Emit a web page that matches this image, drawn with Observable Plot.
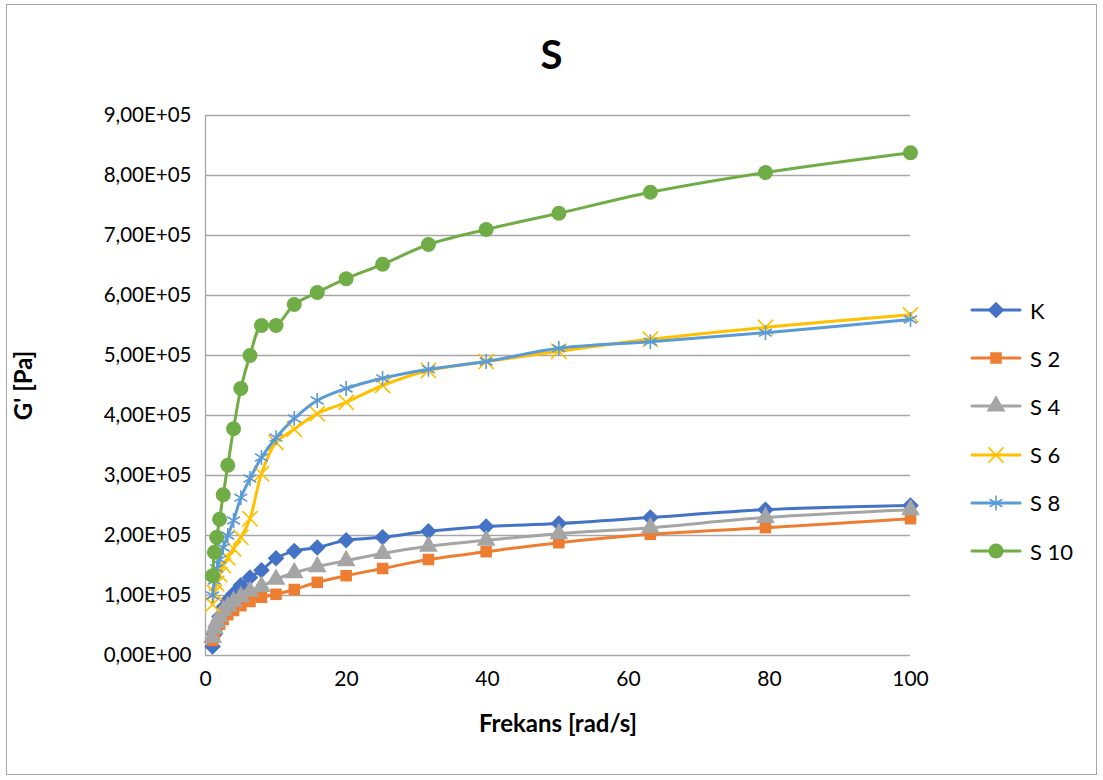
<!DOCTYPE html>
<html>
<head>
<meta charset="utf-8">
<script src="https://cdn.jsdelivr.net/npm/d3@7"></script>
<script src="https://cdn.jsdelivr.net/npm/@observablehq/plot@0.6"></script>
<style>
  html, body { margin: 0; padding: 0; background: #fff; }
  #wrap { position: relative; width: 1103px; height: 780px; font-family: Lato, "Open Sans", sans-serif; }
  #frame { position: absolute; left: 6px; top: 4px; width: 1091px; height: 771px; border: 1.5px solid #a6a6a6; box-sizing: border-box; pointer-events: none; }
  #title { position: absolute; left: 0; width: 1103px; top: 30px; text-align: center; font-weight: bold; font-size: 40px; color: #000; }
  #legend { position: absolute; left: 970px; top: 286px; }
  .row { display: flex; align-items: center; height: 48.2px; }
  .row svg { margin-right: 8px; }
  .row span { font-size: 22px; color: #000; }
  #chart svg { display: block; }
</style>
</head>
<body>
<div id="wrap">
  <div id="chart"></div>
  <div id="title">S</div>
  <div id="legend"></div>
  <div id="frame"></div>
</div>
<script>
// Frequency (rad/s)
const freq = [1, 1.259, 1.585, 1.995, 2.512, 3.162, 3.981, 5.012, 6.31, 7.943, 10, 12.59, 15.85, 19.95, 25.12, 31.62, 39.81, 50.12, 63.1, 79.43, 100];

// G' [Pa] per series
const seriesNames = ["K", "S 2", "S 4", "S 6", "S 8", "S 10"];
const gK   = [15000, 35000, 50000, 65000, 80000, 92000, 103000, 117000, 130000, 142000, 162000, 174000, 180000, 192000, 197000, 207000, 215000, 220000, 230000, 243000, 250000];
const gS2  = [25000, 35000, 45000, 52000, 60000, 68000, 75000, 83000, 90000, 97000, 102000, 110000, 122000, 133000, 145000, 160000, 173000, 188000, 202000, 213000, 228000];
const gS4  = [30000, 45000, 55000, 65000, 75000, 82000, 90000, 98000, 107000, 115000, 127000, 138000, 148000, 158000, 170000, 182000, 192000, 203000, 213000, 230000, 243000];
const gS6  = [85000, 105000, 120000, 135000, 150000, 163000, 178000, 197000, 228000, 303000, 355000, 377000, 403000, 422000, 450000, 475000, 490000, 507000, 527000, 547000, 568000];
const gS8  = [100000, 125000, 145000, 160000, 180000, 200000, 225000, 263000, 295000, 330000, 363000, 395000, 425000, 445000, 462000, 477000, 490000, 512000, 523000, 538000, 560000];
const gS10 = [133000, 172000, 197000, 227000, 268000, 317000, 378000, 445000, 500000, 550000, 550000, 585000, 605000, 628000, 652000, 685000, 710000, 737000, 772000, 805000, 838000];

const xTicks = [0, 20, 40, 60, 80, 100];
const yTicks = [0, 100000, 200000, 300000, 400000, 500000, 600000, 700000, 800000, 900000];

const colors  = ["#4472C4", "#ED7D31", "#A5A5A5", "#FFC000", "#5B9BD5", "#70AD47"];
const symbols = ["diamond2", "square", "triangle", "times", "asterisk", "circle"];
const sizes   = [7.5, 6.5, 7, 7, 7, 7.5];

const allVals = [gK, gS2, gS4, gS6, gS8, gS10];
const data = [];
seriesNames.forEach((name, si) => {
  freq.forEach((f, i) => data.push({series: name, si, x: f, y: allVals[si][i]}));
});

const fmtY = v => v === 0 ? "0,00E+00" : (v / 1e5).toFixed(2).replace(".", ",") + "E+05";

const marks = [
  Plot.ruleY(yTicks, {stroke: "#a6a6a6", strokeWidth: 1.3}),
  Plot.ruleX([0], {y1: 0, y2: 900000, stroke: "#a6a6a6", strokeWidth: 1.3}),
];
seriesNames.forEach((name, si) => {
  const d = data.filter(r => r.si === si);
  marks.push(Plot.line(d, {x: "x", y: "y", stroke: colors[si], strokeWidth: 3, curve: "catmull-rom"}));
  const isStroke = symbols[si] === "times" || symbols[si] === "asterisk";
  marks.push(Plot.dot(d, {
    x: "x", y: "y", symbol: () => symbols[si], r: sizes[si],
    fill: isStroke ? "none" : colors[si],
    stroke: isStroke ? colors[si] : "none",
    strokeWidth: isStroke ? 1.6 : 0
  }));
});

const chart = Plot.plot({
  width: 1103,
  height: 780,
  marginLeft: 205,
  marginRight: 193,
  marginTop: 115,
  marginBottom: 125,
  style: {fontFamily: "Lato, 'Open Sans', sans-serif", fontSize: "20px", color: "#000", background: "#fff"},
  symbol: {type: "identity"},
  x: {domain: [0, 100], ticks: xTicks, tickSize: 0, tickPadding: 14, label: null},
  y: {domain: [0, 900000], ticks: yTicks, tickSize: 0, tickPadding: 14, tickFormat: fmtY, label: null},
  marks: [
    ...marks,
    Plot.axisX(xTicks, {tickSize: 0, tickPadding: 16, fontSize: 21, label: null}),
    Plot.axisY(yTicks, {tickSize: 0, tickPadding: 14, tickFormat: fmtY, fontSize: 20.5, label: null}),
    Plot.text(["Frekans [rad/s]"], {frameAnchor: "bottom", dy: 76, fontWeight: "bold", fontSize: 24}),
    Plot.text(["G' [Pa]"], {frameAnchor: "left", textAnchor: "middle", dx: -181, rotate: -90, fontWeight: "bold", fontSize: 24})
  ]
});
document.getElementById("chart").appendChild(chart);

// Legend
const leg = document.getElementById("legend");
seriesNames.forEach((name, si) => {
  const row = document.createElement("div");
  row.className = "row";
  const sw = d3.create("svg").attr("width", 52).attr("height", 20);
  sw.append("line").attr("x1", 2).attr("x2", 50).attr("y1", 10).attr("y2", 10)
    .attr("stroke", colors[si]).attr("stroke-width", 3).attr("stroke-linecap", "round");
  const isStroke = symbols[si] === "times" || symbols[si] === "asterisk";
  const symMap = {diamond2: d3.symbolDiamond2, square: d3.symbolSquare, triangle: d3.symbolTriangle, times: d3.symbolTimes, asterisk: d3.symbolAsterisk, circle: d3.symbolCircle};
  const r = sizes[si];
  const path = d3.symbol(symMap[symbols[si]], r * r * Math.PI)();
  sw.append("path").attr("d", path).attr("transform", "translate(26,10)")
    .attr("fill", isStroke ? "none" : colors[si])
    .attr("stroke", isStroke ? colors[si] : "none")
    .attr("stroke-width", isStroke ? 1.6 : 0);
  row.appendChild(sw.node());
  const t = document.createElement("span");
  t.textContent = name;
  row.appendChild(t);
  leg.appendChild(row);
});
</script>
</body>
</html>
